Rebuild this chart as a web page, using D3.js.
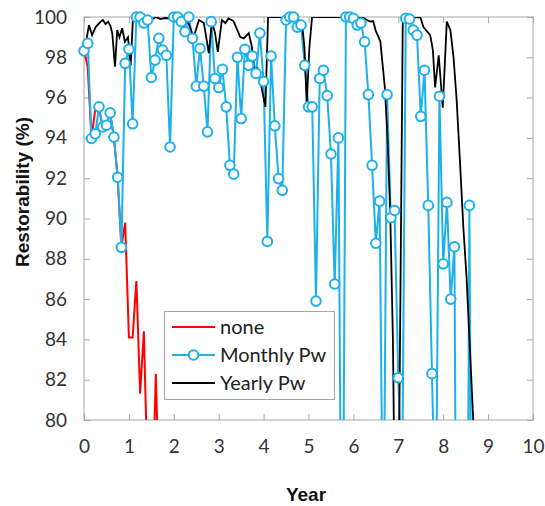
<!DOCTYPE html>
<html><head><meta charset="utf-8">
<script src="https://cdn.jsdelivr.net/npm/d3@7"></script>
<style>body{margin:0;background:#fff}</style>
</head><body>
<svg id="c" width="545" height="506"></svg>
<script>
// ---- data ----
const xTicks = [0,1,2,3,4,5,6,7,8,9,10];
const yTicks = [80,82,84,86,88,90,92,94,96,98,100];
const seriesNames = ["none","Monthly Pw","Yearly Pw"];

// "none" (red)
const noneYear  = [0,0.083,0.167,0.25,0.333,0.417,0.5,0.583,0.667,0.75,0.833,0.917,1.0,1.083,1.167,1.25,1.333,1.417,1.5,1.6,1.7,1.8];
const noneValue = [98.4,97.5,94.0,95.4,95.5,94.5,94.7,95.2,94.0,92.0,88.6,89.8,84.1,84.1,86.9,81.3,84.4,77,74,82.3,74,70];

// Monthly Pw (blue), one value per month starting at year 0
const monthlyValue = [
 98.32,98.69,93.97,94.2,95.54,94.54,94.63,95.24,94.04,92.05,88.57,97.7,
 98.4,94.7,100,100,99.7,99.85,97.0,97.86,98.94,98.36,98.1,93.55,
 100,100,99.77,99.27,100,98.94,96.57,98.44,96.57,94.3,99.77,96.95,
 96.5,97.4,95.54,92.64,92.2,98.0,94.96,98.4,97.6,98.06,97.2,99.2,
 96.8,88.86,98.06,94.6,91.98,91.4,99.85,100,100,99.5,99.6,97.6,
 95.54,95.54,85.9,96.95,97.36,96.1,93.2,86.75,94.0,66,100,100,
 99.93,99.6,99.7,98.77,96.15,92.64,88.77,90.86,72,96.15,90.04,90.4,
 82.1,76,99.93,99.9,99.35,99.1,95.07,97.36,90.65,82.3,74,96.07,
 87.75,90.8,86.0,88.6,53,45,52,90.65,58
];

// Yearly Pw (black)
const yearlyYear = [0,0.05,0.11,0.18,0.26,0.37,0.42,0.48,0.54,0.59,0.63,0.69,0.74,0.79,0.85,0.91,0.98,1.04,1.09,1.2,1.3,1.4,1.5,1.6,1.7,1.8,1.89,2.0,2.1,2.18,2.3,2.44,2.56,2.67,2.78,2.85,2.92,2.98,3.07,3.15,3.22,3.33,3.48,3.56,3.67,3.74,3.8,3.86,3.93,3.98,4.04,4.1,4.56,4.67,4.76,4.86,4.91,4.96,5.02,5.08,6.19,6.3,6.38,6.44,6.5,6.6,6.7,6.76,6.82,6.88,6.95,7.0,7.1,7.49,7.56,7.71,7.77,7.82,7.9,7.99,8.08,8.16,8.23,8.3,8.38,8.45,8.52,8.59,8.67,8.72];
const yearlyValue = [98.3,98.8,99.6,99.1,99.5,99.77,99.85,99.65,99.77,99.55,99.19,97.53,99.35,99.0,99.44,98.77,98.99,97.6,99.93,100,99.9,99.95,99.85,100,99.9,99.95,99.93,99.9,99.95,99.69,99.85,99.0,99.85,99.7,98.2,99.77,99.19,98.27,99.85,99.7,99.93,99.8,99.0,98.94,99.2,98.5,96.95,97.5,96.8,96.2,95.54,100,100,99.85,99.9,99.6,98.5,95.7,98.5,100,100,99.85,99.77,99.8,99.3,98.8,96.5,94.0,90.3,84.0,70,74,99.93,100,99.5,99.1,98.36,96.5,98.1,95.5,99.77,99.35,98.0,95.87,92.55,89.5,87.1,83.77,79.95,78];

// ---- layout ----
const svg = d3.select("#c");
const L=84, R=533, T=17, B=420;
const x = d3.scaleLinear().domain([0,10]).range([L,R]);
const y = d3.scaleLinear().domain([80,100]).range([B,T]);
const frameCol = "#a6a6a6";
const colRed = "#ff0000", colBlue = "#1db1ec", colBlack = "#000000";
const tickFont = "Lato, 'Open Sans', sans-serif";

svg.append("defs").append("clipPath").attr("id","clip")
  .append("rect").attr("x",L).attr("y",T).attr("width",R-L).attr("height",B-T);

// axes with inward ticks
const axB = svg.append("g").attr("transform",`translate(0,${B})`)
  .call(d3.axisBottom(x).tickValues(xTicks).tickSize(-6).tickPadding(20).tickFormat(d3.format("d")));
const axL = svg.append("g").attr("transform",`translate(${L},0)`)
  .call(d3.axisLeft(y).tickValues(yTicks).tickSize(-6).tickPadding(17).tickFormat(d3.format("d")));
const axT = svg.append("g").attr("transform",`translate(0,${T})`)
  .call(d3.axisTop(x).tickValues(xTicks).tickSize(-6).tickFormat(""));
const axR = svg.append("g").attr("transform",`translate(${R},0)`)
  .call(d3.axisRight(y).tickValues(yTicks).tickSize(-6).tickFormat(""));
[axB,axL,axT,axR].forEach(g=>{
  g.select(".domain").remove();
  g.selectAll(".tick line").attr("stroke",frameCol).attr("stroke-width",1);
  g.selectAll(".tick text").attr("fill","#333").style("font-family",tickFont).style("font-size","19px");
});
svg.append("rect").attr("x",L).attr("y",T).attr("width",R-L).attr("height",B-T)
  .attr("fill","none").attr("stroke",frameCol).attr("stroke-width",1);

// axis titles
svg.append("text").attr("x",306).attr("y",501).attr("text-anchor","middle")
  .style("font-family","'Liberation Sans', Arial, sans-serif").style("font-weight","bold").style("font-size","19px")
  .attr("fill","#111").text("Year");
svg.append("text").attr("transform",`translate(29,192) rotate(-90)`).attr("text-anchor","middle")
  .style("font-family","'Liberation Sans', Arial, sans-serif").style("font-weight","bold").style("font-size","19px")
  .attr("fill","#111").text("Restorability (%)");

// series
const plot = svg.append("g").attr("clip-path","url(#clip)");
const line = d3.line().x(d=>x(d[0])).y(d=>y(d[1]));

const noneData = noneYear.map((t,i)=>[t,noneValue[i]]);
const monthlyData = monthlyValue.map((v,i)=>[i/12,v]);
const yearlyData = yearlyYear.map((t,i)=>[t,yearlyValue[i]]);

plot.append("path").datum(noneData).attr("d",line).attr("fill","none")
  .attr("stroke",colRed).attr("stroke-width",2);
plot.append("path").datum(monthlyData).attr("d",line).attr("fill","none")
  .attr("stroke",colBlue).attr("stroke-width",2);
svg.append("g").selectAll("circle").data(monthlyData.filter(d=>d[1]>=80)).join("circle")
  .attr("cx",d=>x(d[0])).attr("cy",d=>y(d[1])).attr("r",4.8)
  .attr("fill","#fff").attr("stroke",colBlue).attr("stroke-width",2);
plot.append("path").datum(yearlyData).attr("d",line).attr("fill","none")
  .attr("stroke",colBlack).attr("stroke-width",1.8);

// legend
const lg = svg.append("g");
lg.append("rect").attr("x",164.5).attr("y",311.5).attr("width",170).attr("height",88)
  .attr("fill","#fff").attr("stroke",frameCol).attr("stroke-width",1);
const legCols = [colRed,colBlue,colBlack];
const legY = [327,355,383];
seriesNames.forEach((n,i)=>{
  lg.append("line").attr("x1",172).attr("x2",215).attr("y1",legY[i]).attr("y2",legY[i])
    .attr("stroke",legCols[i]).attr("stroke-width",2);
  if(i===1) lg.append("circle").attr("cx",193.5).attr("cy",legY[i]).attr("r",4.8)
    .attr("fill","#fff").attr("stroke",colBlue).attr("stroke-width",2);
  lg.append("text").attr("x",220).attr("y",legY[i]+7).text(n)
    .style("font-family",tickFont).style("font-size","20px").attr("fill","#222");
});
</script>
</body></html>
